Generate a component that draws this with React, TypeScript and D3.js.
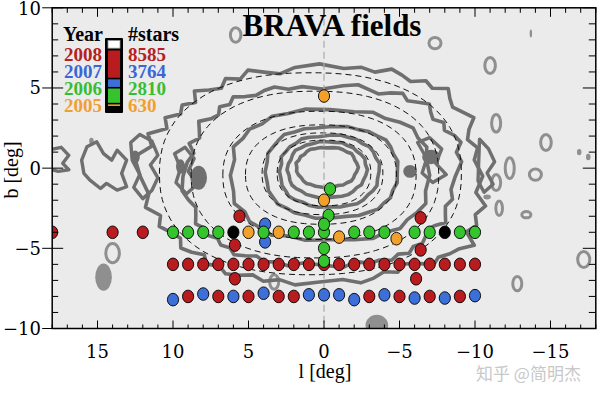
import React from 'react';
import * as d3 from 'd3';

// BRAVA fields, (l, b) in degrees
const fields2008: [number, number][] = [
  [18, -4], [14, -4], [12, -4],
  [10, -6], [9, -6], [8, -6], [7, -6], [6, -6], [5, -6], [4, -6], [3, -6], [2, -6], [1, -6], [0, -6],
  [-1, -6], [-2, -6], [-3, -6], [-4, -6], [-5, -6], [-6, -6], [-7, -6], [-8, -6], [-9, -6], [-10, -6],
  [9, -8], [7, -8], [5, -8], [3, -8], [2, -8], [-3, -8], [-5, -8], [-7, -8], [-9, -8],
  [5.6, -3.0], [5.9, -4.8], [5.9, -6.9], [-6.4, -3.1], [-6.4, -5.1], [-6.1, -6.9],
];
const fields2007: [number, number][] = [
  [10, -8.2], [8, -7.85], [6, -8], [4, -7.8], [1, -7.9], [0, -7.9], [-1, -7.9], [-2, -8.2],
  [-4, -7.9], [-6, -8.1], [-8, -8.1], [-10, -7.95], [3.9, -3.5], [3.9, -4.6],
];
const fields2006: [number, number][] = [
  [10, -4], [9, -4], [8, -4], [7, -4], [4, -4], [2, -4], [1, -4], [0, -4], [-2, -4], [-3, -4],
  [-4, -4], [-6, -4], [-7, -4], [-9, -4], [-10, -4],
  [-0.4, -1.3], [-0.3, -2.95], [0, -3.5], [0, -5.0], [0, -5.8],
];
const fields2005: [number, number][] = [
  [0, 4.5], [0, -2.0], [5, -4], [3, -4], [-1, -4.3], [-4.8, -4.4],
];
const fieldsOther: [number, number][] = [[6, -4], [-8, -4]];

// legend
const legendYears = ['2008', '2007', '2006', '2005'];
const legendStars = ['8585', '3764', '2810', '630'];
const legendBarShare = [0.41, 0.13, 0.225, 0.045]; // segment shares as drawn in the glyph

const xTickLabels = [15, 10, 5, 0, -5, -10, -15];
const yTickLabels = [10, 5, 0, -5, -10];

// observed star-count contours: centre (l,b), half sizes, squareness, radial wobble going round
const countContours = [
  { cl: 0.3, cb: -0.5, rl: 10.6, rb: 6.8, p: 2.6, m: [
    1.12, 1.16, 1.06, 1.1, 1.0, 1.04, 0.97, 1.0, 0.95, 1.02,
    0.97, 0.94, 1.0, 0.96, 1.02, 0.98, 0.95, 1.0, 1.03, 0.99,
    1.01, 0.98, 1.03, 1.0, 0.97, 1.02, 0.99, 1.05, 1.0, 0.97,
    1.0, 1.04, 0.98, 0.95, 1.0, 0.97, 1.02, 0.98, 1.05, 1.0,
    1.03, 0.99, 1.08, 1.02, 1.0, 0.97, 1.0, 0.93, 0.9, 0.95,
    0.92, 0.96, 0.99, 0.95, 0.97, 1.0, 0.96, 0.99, 0.95, 0.98,
    1.0, 0.96, 0.99, 0.94, 0.98, 1.01, 0.97, 1.0, 1.05, 1.02,
    1.1, 1.07] },
  { cl: 0.1, cb: -0.5, rl: 8.8, rb: 5.6, p: 2.6, m: [
    1.05, 1.02, 0.98, 1.03, 0.97, 1.0, 1.04, 0.98, 0.96, 1.01,
    0.98, 1.03, 0.99, 0.97, 1.0, 1.02, 0.98, 1.0, 0.97, 1.01,
    1.03, 0.99, 0.96, 1.0, 1.03, 0.98, 1.01, 1.05, 1.0, 0.97,
    1.02, 0.99, 1.04, 1.07, 1.02, 1.05, 1.0, 0.97, 0.99, 0.95,
    0.97, 1.0, 0.94, 0.92, 0.95, 0.98, 0.96, 1.0, 0.97, 1.01,
    0.98, 1.0, 0.96, 1.02, 0.99, 0.97, 1.01, 0.98, 1.0, 0.96,
    0.99, 1.02, 0.98, 1.0, 0.97, 1.01, 0.99, 1.03, 1.0, 0.98,
    1.02, 1.06] },
  { cl: -0.4, cb: -0.45, rl: 6.6, rb: 4.1, p: 2.5, m: [1.0, 0.97, 1.02, 0.98, 1.0, 0.97, 1.01, 0.99, 1.02, 1.0, 0.98, 1.01, 0.97, 1.0, 1.03, 0.99, 1.02, 0.98, 1.0, 0.97, 1.01, 0.98, 0.96, 1.0, 0.97, 1.01, 0.99, 0.98, 1.0, 0.97, 1.02, 0.99, 1.0, 0.96, 1.01, 0.98] },
  { cl: -0.5, cb: -0.25, rl: 4.4, rb: 2.85, p: 2.4, m: [1.0, 0.98, 1.01, 0.99, 1.0, 1.03, 0.99, 1.0, 0.98, 1.0, 1.01, 0.98, 1.0, 0.99, 1.02, 1.0, 0.98, 1.01, 0.99, 1.0, 0.97, 1.0, 0.98, 1.01, 0.99, 1.0, 0.98, 1.0, 1.02, 0.99, 1.0, 0.98, 1.01, 0.99, 1.0, 0.98] },
  { cl: -0.35, cb: -0.2, rl: 3.3, rb: 2.25, p: 2.3, m: [1.0, 0.97, 1.02, 0.99, 1.0, 0.98, 1.02, 1.0, 0.97, 1.0, 1.02, 0.99, 1.0, 0.97, 1.01, 1.0, 0.98, 1.02, 1.0, 0.98, 1.01, 0.99, 0.97, 1.0, 1.02, 0.99, 1.0, 0.98, 1.01, 1.0, 0.97, 1.0, 1.02, 0.99, 1.0, 0.98] },
  { cl: -0.2, cb: -0.1, rl: 2.6, rb: 1.75, p: 2.2, m: [1.02, 1.0, 0.97, 1.0, 1.03, 0.99, 1.0, 0.98, 1.01, 1.0, 0.99, 1.02, 0.98, 1.0, 0.97, 1.0, 1.02, 0.99, 1.03, 1.0, 0.98, 1.0, 0.96, 0.99, 1.01, 1.0, 0.98, 1.0, 1.01, 0.99, 1.0, 0.97, 1.0, 1.02, 1.0, 0.98] },
  { cl: -0.2, cb: 0.05, rl: 2.0, rb: 1.25, p: 2.2, m: [1.0, 1.04, 0.98, 1.0, 0.96, 1.0, 1.03, 0.99, 1.0, 0.97, 1.0, 1.02, 1.0, 0.98, 1.03, 1.0, 0.97, 1.0, 1.04, 1.0, 0.97, 1.0, 1.02, 0.98, 1.0, 0.96, 1.0, 1.03, 0.99, 1.0, 0.98, 1.02, 1.0, 0.97, 1.0, 1.02] },
];

// disk wisps beside the bulge, (l,b) vertices
const diskContours: [number, number][][] = [
  [[16.05, 0.5], [15.7, 1.33], [15.05, 1.64], [14.6, 0.91], [14.06, 0.5], [13.7, 1.12], [13.07, 0.5], [13.4, -0.33], [13.07, -1.16], [13.7, -1.37], [14.4, -0.95], [14.8, -1.27], [15.5, -0.75], [15.9, -0.33]],
  [[18.4, 1.1], [17.4, 1.3], [16.9, 0.8], [17.3, 0.3], [16.9, -0.1], [17.6, -0.2], [18.4, 0.0]],
  [[12.8, 1.6], [12.2, 2.1], [11.4, 1.7], [11.0, 0.8], [11.5, 0.2], [11.0, -0.6], [11.4, -1.4], [12.0, -1.9], [12.6, -1.2], [12.2, -0.4], [12.7, 0.5]],
  [[9.9, 0.9], [9.2, 1.3], [8.6, 0.6], [9.0, -0.2], [8.4, -1.0], [9.1, -1.6], [9.8, -0.9], [9.5, 0.0]],
  [[-10.3, 1.8], [-10.9, 1.2], [-11.3, 0.4], [-10.8, -0.3], [-11.2, -1.0], [-10.6, -1.5], [-10.2, -0.8]],
  [[-6.2, 1.6], [-7.0, 1.9], [-7.8, 1.2], [-7.4, 0.3], [-8.1, -0.4], [-7.2, -0.9], [-6.5, -0.3], [-6.8, 0.6]],
];
const darkBlobs: [number, number, number, number][] = [
  [8.3, -0.6, 0.55, 0.75], [9.5, 0.1, 0.3, 0.45], [-7.1, 0.7, 0.6, 0.45], [-5.7, -0.2, 0.45, 0.4], [12.5, 0.7, 0.3, 0.4],
];
// faint outer rings and specks
const faintRings: [number, number, number, number][] = [
  [5.85, 8.3, 0.35, 0.45], [-7.35, 7.8, 0.4, 0.35], [-11.0, 6.4, 0.35, 0.5], [-11.4, 2.8, 0.3, 0.55],
  [-14.7, 1.6, 0.35, 0.5], [-14.0, -0.4, 0.4, 0.35], [-12.3, 0.0, 0.3, 0.65], [-11.4, -0.9, 0.3, 0.5],
  [-11.6, -2.5, 0.22, 0.45], [-13.4, -2.9, 0.3, 0.2], [-12.8, -7.2, 0.3, 0.45], [-17.2, -5.7, 0.4, 0.5],
  [14.0, -5.3, 0.45, 0.6], [3.3, -7.1, 0.3, 0.45],
];
const faintBlobs: [number, number, number, number][] = [
  [14.6, -6.8, 0.55, 0.85], [-3.5, -9.8, 0.75, 0.65], [-13.7, 8.4, 0.08, 0.25], [-16.9, 1.0, 0.15, 0.2],
  [-17.5, 0.7, 0.15, 0.2], [15.4, 1.7, 0.15, 0.2], [-10.8, -1.8, 0.25, 0.15],
];
// bar model iso-density curves: centre, half sizes
const modelCurves: [number, number, number, number][] = [
  [0.9, -0.35, 10.0, 6.3], [0.6, -0.4, 8.2, 5.2], [0.3, -0.45, 6.4, 4.0],
  [0.2, -0.4, 5.0, 3.1], [0.1, -0.35, 4.0, 2.55], [0.0, -0.3, 3.1, 2.05],
];

const W = 600, H = 393;
const x = d3.scaleLinear().domain([18, -18]).range([52.2, 595.8]);
const y = d3.scaleLinear().domain([-10, 10]).range([328.5, 7.8]);

const RED = '#b81c1f', BLUE = '#3d6fd8', GREEN = '#36c42e', ORANGE = '#f1a12b';
const legendColors = [RED, BLUE, GREEN, ORANGE];
const legendText = ['#b52020', '#3a66d6', '#38bd30', '#f0a030'];

const line = d3.line().curve(d3.curveLinearClosed);

function superPath(cl: number, cb: number, rl: number, rb: number, p: number, m: number[]) {
  const e = 2 / p;
  const pts = m.map((k, i) => {
    const t = (i / m.length) * 2 * Math.PI;
    const c = Math.cos(t), s = Math.sin(t);
    const u = Math.sign(c) * Math.pow(Math.abs(c), e);
    const v = Math.sign(s) * Math.pow(Math.abs(s), e);
    return [x(cl + rl * k * u), y(cb + rb * k * v)] as [number, number];
  });
  return line(pts) || '';
}

const smooth = d3.range(90).map(() => 1);

const serif = 'Liberation Serif, Times New Roman, serif';
const tickFont = 'DejaVu Serif, serif';

export default function App() {
  const x0 = x.range()[0], x1 = x.range()[1];
  const y0 = y.range()[1], y1 = y.range()[0];
  const minor = d3.range(-18, 19);
  const minorY = d3.range(-10, 11);

  const dot = (pts: [number, number][], fill: string, key: string) =>
    pts.map((d, i) => (
      <ellipse key={key + i} cx={x(d[0])} cy={y(d[1])} rx={5.6} ry={6.3} fill={fill} stroke="#000" strokeWidth={0.9} />
    ));

  // legend bar stack
  const barY = d3.scaleLinear().domain([0, 1]).range([40.5, 111]);
  const whiteShare = 1 - d3.sum(legendBarShare) - 0.06;
  let acc = whiteShare;
  const segs = legendBarShare.map((s, i) => {
    const seg = { a: acc, b: acc + s, c: legendColors[i] };
    acc += s;
    return seg;
  });

  return (
    <svg width={W} height={H} style={{ position: 'absolute', left: 0, top: 0, background: '#fff' }}>
      <defs>
        <clipPath id="plot">
          <rect x={x0} y={y0} width={x1 - x0} height={y1 - y0} />
        </clipPath>
      </defs>
      <rect x={x0} y={y0} width={x1 - x0} height={y1 - y0} fill="#ebebeb" />

      <g clipPath="url(#plot)">
        {faintRings.map((r, i) => (
          <ellipse key={'fr' + i} cx={x(r[0])} cy={y(r[1])} rx={x(0) - x(r[2])} ry={y(0) - y(r[3])}
            fill="none" stroke="#8f8f8f" strokeWidth={3} />
        ))}
        {faintBlobs.map((r, i) => (
          <ellipse key={'fb' + i} cx={x(r[0])} cy={y(r[1])} rx={x(0) - x(r[2])} ry={y(0) - y(r[3])} fill="#8f8f8f" />
        ))}
        {diskContours.map((c, i) => (
          <path key={'dc' + i} d={line(c.map(d => [x(d[0]), y(d[1])] as [number, number])) || ''}
            fill="none" stroke="#6f6f6f" strokeWidth={3.4} strokeLinejoin="round" />
        ))}
        {darkBlobs.map((r, i) => (
          <ellipse key={'db' + i} cx={x(r[0])} cy={y(r[1])} rx={x(0) - x(r[2])} ry={y(0) - y(r[3])} fill="#6f6f6f" />
        ))}
        {countContours.map((c, i) => (
          <path key={'cc' + i} d={superPath(c.cl, c.cb, c.rl, c.rb, c.p, c.m)}
            fill="none" stroke="#6f6f6f" strokeWidth={3.6} strokeLinejoin="round" />
        ))}
        {modelCurves.map((c, i) => (
          <path key={'mc' + i} d={superPath(c[0], c[1], c[2], c[3], 2.3, smooth)}
            fill="none" stroke="#111" strokeWidth={1} strokeDasharray="6,4" />
        ))}
        <line x1={x(0)} x2={x(0)} y1={y0} y2={y1} stroke="#a9a9a9" strokeWidth={1.2} strokeDasharray="7,4" />
        {dot(fields2008, RED, 'r')}
        {dot(fields2007, BLUE, 'b')}
        {dot(fields2006, GREEN, 'g')}
        {dot(fields2005, ORANGE, 'o')}
        {dot(fieldsOther, '#000', 'k')}
      </g>

      {/* frame and ticks */}
      <rect x={x0} y={y0} width={x1 - x0} height={y1 - y0} fill="none" stroke="#000" strokeWidth={1.5} />
      {minor.map(v => {
        const major = v % 5 === 0;
        return (
          <g key={'xt' + v} stroke="#000" strokeWidth={1}>
            <line x1={x(v)} x2={x(v)} y1={y1} y2={y1 - (major ? 8 : 4)} />
            <line x1={x(v)} x2={x(v)} y1={y0} y2={y0 + (major ? 9 : 5)} />
          </g>
        );
      })}
      {minorY.map(v => {
        const major = v % 5 === 0;
        return (
          <g key={'yt' + v} stroke="#000" strokeWidth={1}>
            <line x1={major ? x0 - 10 : x0} x2={x0 + (major ? 11 : 6)} y1={y(v)} y2={y(v)} />
            <line x1={x1} x2={x1 - (major ? 13 : 7)} y1={y(v)} y2={y(v)} />
          </g>
        );
      })}
      {xTickLabels.map(v => (
        <text key={'xl' + v} x={x(v)} y={358} textAnchor="middle" fontFamily={tickFont} fontSize={18}>
          {v < 0 ? '\u2212' + Math.abs(v) : v}
        </text>
      ))}
      {yTickLabels.map(v => (
        <text key={'yl' + v} x={41} y={Math.max(15, y(v) + 6.5)} textAnchor="end" fontFamily={tickFont} fontSize={18}>
          {v < 0 ? '\u2212' + Math.abs(v) : v}
        </text>
      ))}
      <text x={325} y={378} textAnchor="middle" fontFamily={serif} fontSize={20}>l [deg]</text>
      <text transform="translate(18,170) rotate(-90)" textAnchor="middle" fontFamily={serif} fontSize={20}>b [deg]</text>

      <text x={332} y={36} textAnchor="middle" fontFamily={serif} fontSize={31} fontWeight="bold">BRAVA fields</text>

      {/* legend */}
      <text x={103} y={41} textAnchor="end" fontFamily={serif} fontSize={20} fontWeight="bold">Year</text>
      <text x={128} y={41} fontFamily={serif} fontSize={20} fontWeight="bold">#stars</text>
      {legendYears.map((t, i) => (
        <text key={'ly' + i} x={102} y={60.5 + i * 17} textAnchor="end" fontFamily={serif} fontSize={19}
          fontWeight="bold" fill={legendText[i]}>{t}</text>
      ))}
      {legendStars.map((t, i) => (
        <text key={'ls' + i} x={128} y={60.5 + i * 17} fontFamily={serif} fontSize={19}
          fontWeight="bold" fill={legendText[i]}>{t}</text>
      ))}
      <rect x={105} y={38} width={18} height={75} fill="#000" rx={1} />
      <rect x={108} y={barY(0)} width={12} height={barY(whiteShare) - barY(0) - 1.5} fill="#fff" stroke="#999" strokeWidth={0.8} />
      {segs.map((s, i) => (
        <rect key={'seg' + i} x={108} y={barY(s.a) + 0.8} width={12} height={Math.max(1.5, barY(s.b) - barY(s.a) - 1.6)} fill={s.c} />
      ))}

      <text x={476} y={380} fontFamily="Noto Sans CJK SC, sans-serif" fontSize={17} fill="#c8c8c8">知乎 @简明杰</text>
    </svg>
  );
}
